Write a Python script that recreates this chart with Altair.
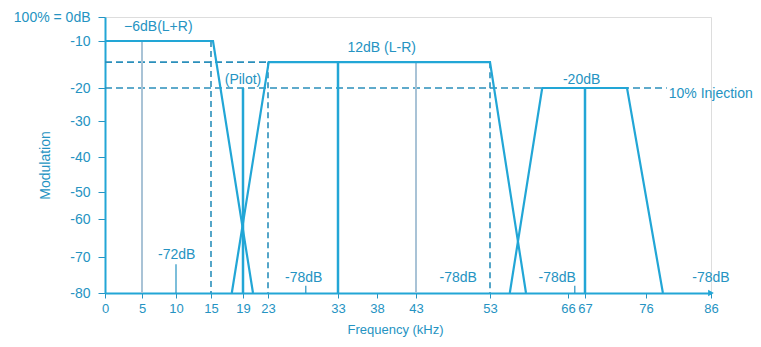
import altair as alt
import pandas as pd

# ---- axis tick positions (schematic, non-uniform axes) ----
tick_khz = [0, 5, 10, 15, 19, 23, 33, 38, 43, 53, 66, 67, 76, 86]
tick_px = [0, 37, 71, 106, 138, 163, 233, 272, 311, 385, 463, 480, 541, 606]
db_ticks = [0, -10, -20, -30, -40, -50, -60, -70, -80]
db_px = [0, 24, 71, 104, 140, 175, 202, 240, 276]

# ---- band outlines ----
sum_khz = [0, 15.25, 20.6]
sum_db = [-10, -10, -80]
diff_khz = [17.6, 23.1, 53, 59]
diff_db = [-80, -14.5, -14.5, -80]
sca_khz = [56.3, 61.7, 73.2, 78.6]
sca_db = [-80, -20, -20, -80]

# ---- vertical lines ----
solid_v_khz = [19, 33, 67]
solid_v_top = [-20, -14.5, -20]
light_v_khz = [5, 43]
light_v_top = [-10, -14.5]
dash_v_khz = [15, 23, 53]
dash_v_top = [-10, -14.5, -14.5]
small_tick_khz = [10, 28.4, 66.4]
small_tick_top = [-72, -78, -78]

# ---- dashed horizontal reference lines ----
dash_h_db = [-14.5, -20]
dash_h_from = [0, 0]
dash_h_to = [23.1, 79.2]

# ---- labels ----
label_text = ["\u22126dB(L+R)", "12dB (L-R)", "(Pilot)", "-20dB", "-72dB",
              "-78dB", "-78dB", "-78dB", "-78dB"]
label_khz = [7.4, 38.6, 19.0, 66.8, 10.1, 28.1, 48.7, 64.2, 86.0]
label_db = [-4.2, -11.5, -18.3, -18.3, -69.4, -75.8, -75.8, -75.8, -75.8]
inj_text = ["10% Injection"]
inj_khz = [79.5]
inj_db = [-21.8]

TEXT = "#2593c2"
LINE = "#22a6d6"
DASH = "#2a8fbb"
LIGHT = "#a9c3d6"
FONT = "Liberation Sans"

xs = alt.Scale(domain=tick_khz, range=tick_px, nice=False, zero=False)
ys = alt.Scale(domain=db_ticks, range=db_px, nice=False, zero=False)

xaxis = alt.Axis(values=tick_khz, grid=False, title="Frequency (kHz)",
                 domainColor=LINE, domainWidth=2, tickColor=TEXT, tickSize=5,
                 tickWidth=1, labelColor=TEXT, labelFontSize=13, labelFont=FONT,
                 labelPadding=4, labelOverlap=False, labelFlush=False,
                 titleColor=TEXT, titleFontSize=13, titleFont=FONT,
                 titleFontWeight="normal", titleX=290, titleY=36,
                 titleBaseline="middle")
yaxis = alt.Axis(values=db_ticks, grid=False, title="Modulation",
                 labelExpr="datum.value == 0 ? '100% = 0dB' : toString(datum.value)",
                 domainColor=LINE, domainWidth=2, tickColor=TEXT, tickSize=7,
                 tickWidth=1, labelColor=TEXT, labelFontSize=14, labelFont=FONT,
                 labelPadding=8, labelOverlap=False, labelFlush=False,
                 titleColor=TEXT, titleFontSize=14, titleFont=FONT,
                 titleFontWeight="normal", titleX=-60, titleY=148,
                 titleBaseline="middle", titleAngle=-90)


def X(field="khz"):
    return alt.X(f"{field}:Q", scale=xs, axis=xaxis)


def Y(field="db"):
    return alt.Y(f"{field}:Q", scale=ys, axis=yaxis)


rows = []
for name, ks, ds in [("sum", sum_khz, sum_db), ("diff", diff_khz, diff_db),
                     ("sca", sca_khz, sca_db)]:
    for i, (k, d) in enumerate(zip(ks, ds)):
        rows.append({"band": name, "i": i, "khz": k, "db": d})
bands = pd.DataFrame(rows)

band_layer = alt.Chart(bands).mark_line(color=LINE, strokeWidth=2.2).encode(
    x=X(), y=Y(), detail="band:N", order="i:Q")


def vrules(ks, tops, **style):
    df = pd.DataFrame({"khz": ks, "db": tops, "db2": [-80] * len(ks)})
    return alt.Chart(df).mark_rule(**style).encode(x=X(), y=Y(), y2="db2:Q")


solid_v = vrules(solid_v_khz, solid_v_top, color=LINE, strokeWidth=2.5)
light_v = vrules(light_v_khz, light_v_top, color=LIGHT, strokeWidth=2)
dash_v = vrules(dash_v_khz, dash_v_top, color=DASH, strokeWidth=1.6,
                strokeDash=[6, 4])
small_v = vrules(small_tick_khz, small_tick_top, color=TEXT, strokeWidth=1.2)

dash_h_df = pd.DataFrame({"db": dash_h_db, "khz": dash_h_from, "khz2": dash_h_to})
dash_h = alt.Chart(dash_h_df).mark_rule(color=DASH, strokeWidth=1.6,
                                        strokeDash=[7, 4]).encode(
    x=X(), x2="khz2:Q", y=Y())

arrow_df = pd.DataFrame({"khz": [86], "db": [-80]})
arrow = alt.Chart(arrow_df).mark_point(shape="triangle-right", filled=True,
                                       color=LINE, size=45, opacity=1).encode(
    x=X(), y=Y())

labels_df = pd.DataFrame({"t": label_text, "khz": label_khz, "db": label_db})
labels = alt.Chart(labels_df).mark_text(font=FONT, fontSize=14, color=TEXT,
                                        align="center", baseline="middle").encode(
    x=X(), y=Y(), text="t:N")

inj_df = pd.DataFrame({"t": inj_text, "khz": inj_khz, "db": inj_db})
inj = alt.Chart(inj_df).mark_text(font=FONT, fontSize=14, color=TEXT,
                                  align="left", baseline="middle").encode(
    x=X(), y=Y(), text="t:N")

chart = alt.layer(dash_h, light_v, dash_v, small_v, solid_v, band_layer,
                  arrow, labels, inj).properties(
    width=606, height=276,
    padding={"left": 97, "top": 9, "right": 42, "bottom": 46},
    autosize=alt.AutoSizeParams(type="none"),
).configure_view(stroke=None).configure(background="white")

chart.save("out.html", embed_options={"renderer": "svg", "actions": False})
